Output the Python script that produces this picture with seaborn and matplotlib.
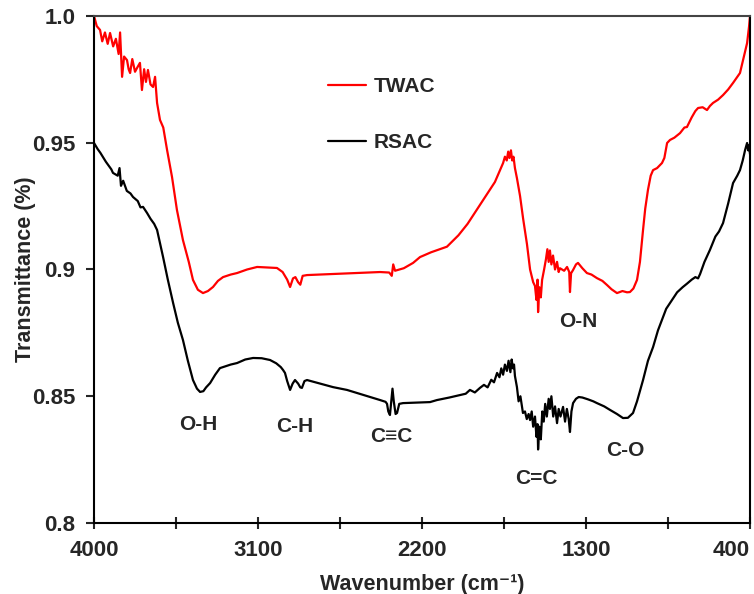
import pandas as pd
import matplotlib
matplotlib.use("Agg")
import matplotlib.pyplot as plt
import seaborn as sns

# values
twac_x = [4000, 3985, 3967, 3955, 3940, 3925, 3912, 3895, 3880, 3865, 3857, 3846, 3835, 3819,
          3810, 3802, 3790, 3775, 3760, 3748, 3737, 3725, 3715, 3704, 3690, 3676, 3665, 3654,
          3638, 3620, 3599, 3572, 3545, 3512, 3480, 3457, 3430, 3402, 3375, 3347, 3320, 3292,
          3250, 3215, 3160, 3105, 3050, 2996, 2965, 2940, 2924, 2908, 2895, 2880, 2868, 2855,
          2831, 2700, 2600, 2500, 2430, 2380, 2366, 2358, 2348, 2300, 2249, 2211, 2150, 2063,
          2000, 1950, 1900, 1850, 1800, 1770, 1755, 1745, 1735, 1727, 1720, 1712, 1705, 1698,
          1690, 1679, 1662, 1645, 1624, 1607, 1590, 1580, 1572, 1566, 1563, 1556, 1548, 1541,
          1530, 1520, 1512, 1505, 1498, 1490, 1481, 1470, 1459, 1450, 1443, 1420, 1404, 1392,
          1388, 1382, 1371, 1355, 1344, 1320, 1295, 1270, 1240, 1210, 1185, 1160, 1130, 1100,
          1075, 1059, 1040, 1020, 1004, 987, 975, 960, 945, 932, 910, 883, 870, 855, 839, 815,
          784, 760, 746, 720, 700, 685, 660, 636, 620, 603, 575, 548, 520, 493, 470, 455, 440,
          427, 416, 405, 400]
twac_y = [1.000, 0.9960, 0.9945, 0.9900, 0.9935, 0.9890, 0.9933, 0.9880, 0.9910, 0.9850, 0.9935,
          0.9760, 0.9840, 0.9826, 0.9790, 0.9775, 0.9830, 0.9780, 0.9800, 0.9815, 0.9708, 0.9790,
          0.9740, 0.9787, 0.9730, 0.9720, 0.9760, 0.9657, 0.9590, 0.9560, 0.9471, 0.9365, 0.9235,
          0.9116, 0.9030, 0.8959, 0.8920, 0.8907, 0.8915, 0.8931, 0.8955, 0.8970, 0.8980, 0.8986,
          0.9000, 0.9010, 0.9008, 0.9006, 0.8990, 0.8960, 0.8931, 0.8965, 0.8970, 0.8950, 0.8940,
          0.8975, 0.8978, 0.8982, 0.8985, 0.8988, 0.8990, 0.8988, 0.8975, 0.9020, 0.8995, 0.9005,
          0.9026, 0.9049, 0.9068, 0.9090, 0.9135, 0.9180, 0.9235, 0.9290, 0.9345, 0.9395, 0.9420,
          0.9445, 0.9430, 0.9465, 0.9440, 0.9470, 0.9430, 0.9445, 0.9400, 0.9360, 0.9290, 0.9200,
          0.9100, 0.9000, 0.8950, 0.8935, 0.8880, 0.8960, 0.8832, 0.8930, 0.8890, 0.8959, 0.9000,
          0.9040, 0.9080, 0.9030, 0.9075, 0.9020, 0.9055, 0.9000, 0.9030, 0.8990, 0.9005, 0.8995,
          0.9010, 0.8990, 0.8911, 0.8985, 0.8998, 0.9020, 0.9026, 0.9005, 0.8986, 0.8980, 0.8966,
          0.8955, 0.8939, 0.8922, 0.8907, 0.8915, 0.8910, 0.8911, 0.8925, 0.8959, 0.9030, 0.9156,
          0.9240, 0.9314, 0.9370, 0.9392, 0.9400, 0.9420, 0.9440, 0.9499, 0.9511, 0.9520, 0.9538,
          0.9560, 0.9562, 0.9600, 0.9625, 0.9637, 0.9640, 0.9629, 0.9645, 0.9657, 0.9670, 0.9688,
          0.9710, 0.9736, 0.9760, 0.9775, 0.9820, 0.9860, 0.9893, 0.9960, 1.000]

rsac_x = [4000, 3980, 3965, 3951, 3935, 3920, 3905, 3896, 3870, 3860, 3852, 3840, 3820, 3800,
          3786, 3760, 3745, 3731, 3720, 3709, 3690, 3670, 3654, 3640, 3621, 3595, 3566, 3540,
          3512, 3485, 3457, 3435, 3418, 3400, 3385, 3363, 3335, 3309, 3280, 3250, 3215, 3170,
          3127, 3080, 3034, 3000, 2975, 2963, 2952, 2940, 2924, 2910, 2897, 2880, 2868, 2859,
          2845, 2831, 2760, 2688, 2612, 2520, 2430, 2400, 2392, 2385, 2376, 2370, 2362, 2355,
          2345, 2337, 2325, 2304, 2230, 2156, 2118, 2050, 1991, 1960, 1937, 1910, 1882, 1860,
          1840, 1820, 1805, 1788, 1775, 1765, 1755, 1745, 1734, 1725, 1715, 1708, 1701, 1695,
          1690, 1679, 1670, 1660, 1646, 1635, 1625, 1615, 1607, 1598, 1590, 1580, 1572, 1566,
          1563, 1556, 1548, 1540, 1532, 1524, 1515, 1505, 1498, 1490, 1480, 1470, 1459, 1450,
          1440, 1426, 1415, 1405, 1395, 1388, 1380, 1371, 1355, 1340, 1320, 1290, 1260, 1240,
          1200, 1168, 1130, 1097, 1070, 1042, 1020, 1000, 987, 960, 932, 905, 877, 860, 839,
          800, 770, 746, 720, 700, 685, 674, 650, 620, 590, 570, 548, 520, 493, 470, 455, 440,
          427, 416, 410, 405, 400]
rsac_y = [0.9499, 0.9475, 0.9460, 0.9444, 0.9425, 0.9410, 0.9395, 0.9381, 0.9370, 0.9400, 0.9330,
          0.9350, 0.9310, 0.9300, 0.9286, 0.9270, 0.9245, 0.9247, 0.9235, 0.9223, 0.9200, 0.9180,
          0.9156, 0.9110, 0.9049, 0.8960, 0.8868, 0.8790, 0.8722, 0.8640, 0.8564, 0.8530, 0.8517,
          0.8520, 0.8535, 0.8552, 0.8585, 0.8611, 0.8618, 0.8625, 0.8631, 0.8645, 0.8651, 0.8650,
          0.8643, 0.8630, 0.8615, 0.8604, 0.8592, 0.8560, 0.8525, 0.8550, 0.8564, 0.8550, 0.8535,
          0.8533, 0.8560, 0.8564, 0.8550, 0.8536, 0.8525, 0.8505, 0.8485, 0.8478, 0.8470, 0.8440,
          0.8426, 0.8470, 0.8530, 0.8480, 0.8430, 0.8434, 0.8470, 0.8473, 0.8475, 0.8477, 0.8485,
          0.8495, 0.8505, 0.8510, 0.8525, 0.8515, 0.8533, 0.8545, 0.8535, 0.8565, 0.8555, 0.8592,
          0.8575, 0.8610, 0.8585, 0.8625, 0.8600, 0.8640, 0.8595, 0.8645, 0.8610, 0.8625, 0.8580,
          0.8536, 0.8480, 0.8500, 0.8434, 0.8440, 0.8410, 0.8430, 0.8406, 0.8440, 0.8380, 0.8420,
          0.8340, 0.8390, 0.8290, 0.8380, 0.8330, 0.8440, 0.8400, 0.8470, 0.8420, 0.8490, 0.8450,
          0.8500, 0.8420, 0.8460, 0.8394, 0.8450, 0.8420, 0.8458, 0.8400, 0.8450, 0.8410, 0.8359,
          0.8440, 0.8473, 0.8490, 0.8497, 0.8495, 0.8488, 0.8480, 0.8473, 0.8460, 0.8446, 0.8430,
          0.8414, 0.8415, 0.8434, 0.8480, 0.8530, 0.8564, 0.8640, 0.8694, 0.8760, 0.8813, 0.8845,
          0.8868, 0.8910, 0.8930, 0.8944, 0.8960, 0.8970, 0.8965, 0.8982, 0.9030, 0.9077, 0.9130,
          0.9150, 0.9183, 0.9260, 0.9341, 0.9370, 0.9392, 0.9430, 0.9471, 0.9499, 0.9470, 0.9490,
          0.9455]

bands = ["O-H", "C-H", "C\u2261C", "C=C", "C-O", "O-N"]
band_x = [3429, 2897, 2370, 1574, 1086, 1344]
band_y = [0.839, 0.838, 0.8343, 0.8177, 0.8288, 0.8793]

xticks = [4000, 3550, 3100, 2650, 2200, 1750, 1300, 850, 400]
xlabels = ["4000", "", "3100", "", "2200", "", "1300", "", "400"]
yticks = [0.8, 0.85, 0.9, 0.95, 1.0]
ylabels = ["0.8", "0.85", "0.9", "0.95", "1.0"]

df = pd.concat([
    pd.DataFrame({"wavenumber": twac_x, "T": twac_y, "sample": "TWAC"}),
    pd.DataFrame({"wavenumber": rsac_x, "T": rsac_y, "sample": "RSAC"}),
])

sns.set_style("ticks")
plt.rcParams["font.family"] = ["Liberation Sans", "DejaVu Sans"]
plt.rcParams["font.weight"] = "bold"

fig, ax = plt.subplots(figsize=(7.54, 5.94), dpi=100)
fig.subplots_adjust(left=0.1247, right=0.9947, bottom=0.1195, top=0.9731)

sns.lineplot(data=df, x="wavenumber", y="T", hue="sample", estimator=None, sort=False,
             palette={"TWAC": "#ff0000", "RSAC": "#000000"}, linewidth=1.6, ax=ax)

ax.set_xlim(4000, 400)
ax.set_ylim(0.8, 1.0)
ax.set_xticks(xticks)
ax.set_xticklabels(xlabels)
ax.set_yticks(yticks)
ax.set_yticklabels(ylabels)
ax.tick_params(axis="x", direction="inout", length=8, width=1.5, pad=8, labelsize=16)
ax.tick_params(axis="y", direction="out", length=5.5, width=1.5, pad=8, labelsize=16)
# last label sits flush against the right edge, as in the original
ax.get_xticklabels()[-1].set_horizontalalignment("right")
for s in ax.spines.values():
    s.set_visible(True)
    s.set_linewidth(1.5)
    s.set_color("black")
ax.spines["top"].set_color("#444444")

ax.set_xlabel("Wavenumber (cm\u207b\u00b9)", fontsize=15.5, fontweight="bold")
ax.set_ylabel("Transmittance (%)", fontsize=15.5, fontweight="bold")
ax.xaxis.set_label_coords(0.5, -0.1)
ax.yaxis.set_label_coords(-0.088, 0.5)

for name, bx, by in zip(bands, band_x, band_y):
    ax.text(bx, by, name, ha="center", va="center", fontsize=15, fontweight="bold")

leg = ax.legend(title=None, frameon=False, loc="upper left", bbox_to_anchor=(0.357, 0.88),
                borderaxespad=0, borderpad=0, handlelength=1.8, handletextpad=0.4,
                labelspacing=1.8, prop={"size": 15, "weight": "bold"})
for line in leg.get_lines():
    line.set_linewidth(1.6)

fig.savefig("out.png", dpi=100)
